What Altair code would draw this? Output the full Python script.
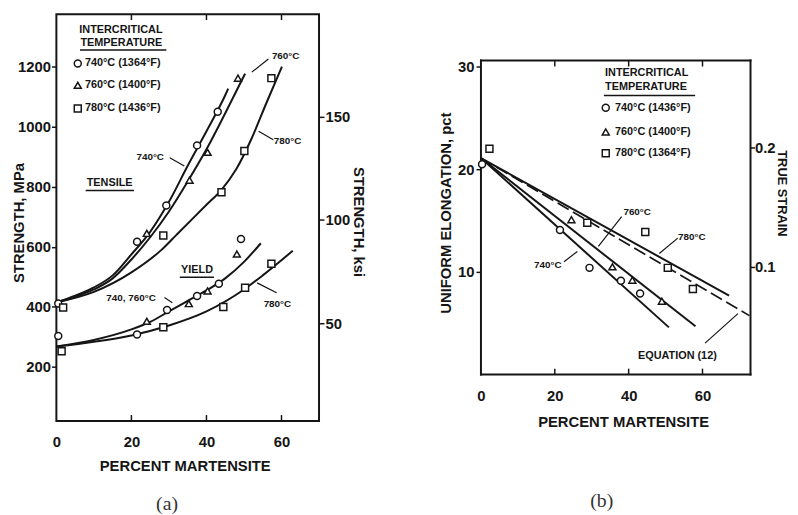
import math
import altair as alt
import pandas as pd

FONT = "Liberation Sans"
SERIF = "Liberation Serif"
INK = "#151515"

# ---------------- shared legend categories ----------------
temps_a = ["740°C (1364°F)", "760°C (1400°F)", "780°C (1436°F)"]
temps_b = ["740°C (1436°F)", "760°C (1400°F)", "780°C (1364°F)"]
shapes = ["circle", "triangle-up", "square"]
xtick_values = [0, 20, 40, 60]
inner_xticks = [20, 40, 60]

# ---------------- panel (a): strength vs martensite ----------------
mpa_ticks = [200, 400, 600, 800, 1000, 1200]
ksi_ticks = [50, 100, 150]
MPA_PER_KSI = 6.895

# tensile points
ten740_x = [0.5, 21.5, 29.3, 37.5, 43.0]
ten740_y = [411, 617, 738, 938, 1050]
ten760_x = [24.1, 35.5, 40.3, 48.4]
ten760_y = [645, 822, 915, 1162]
ten780_x = [1.8, 28.5, 44.0, 50.1, 57.3]
ten780_y = [398, 638, 782, 919, 1162]
# yield points
yld740_x = [0.5, 21.5, 29.5, 37.5, 43.3, 49.2]
yld740_y = [303, 308, 390, 436, 477, 626]
yld760_x = [24.1, 35.3, 40.3, 48.1]
yld760_y = [352, 411, 453, 576]
yld780_x = [1.4, 28.5, 44.5, 50.3, 57.3]
yld780_y = [252, 332, 400, 464, 544]

# fitted curves
c740t_x = [0, 5, 10, 15, 20, 25, 30, 35, 40, 45, 45.8]
c740t_y = [415, 437, 465, 505, 575, 650, 750, 870, 985, 1105, 1127]
c760t_x = [0, 5, 10, 15, 20, 25, 30, 35, 40, 45, 50.3]
c760t_y = [415, 433, 458, 495, 558, 632, 718, 818, 925, 1045, 1177]
c780t_x = [0, 10, 20, 28, 32, 36, 40, 44, 48, 52, 56, 60.1]
c780t_y = [415, 450, 515, 590, 640, 690, 740, 790, 860, 960, 1080, 1200]
c7476y_x = [0, 10, 20, 25, 30, 35, 40, 45, 50, 54.5]
c7476y_y = [268, 290, 325, 350, 385, 420, 455, 495, 550, 612]
c780y_x = [0, 10, 20, 30, 40, 50, 55, 63]
c780y_y = [268, 284, 305, 338, 385, 458, 505, 587]

# annotations (data coordinates)
a_lab_text = ["760°C", "780°C", "740°C", "740, 760°C", "780°C"]
a_lab_x = [61.1, 61.6, 25.0, 19.9, 58.9]
a_lab_y = [1237, 952, 898, 431, 408]
a_head_text = ["TENSILE", "YIELD"]
a_head_x = [14.2, 37.5]
a_head_y = [811, 523]
a_leg_title = ["INTERCRITICAL", "TEMPERATURE"]
a_leg_title_x = [6.1, 6.4]
a_leg_title_y = [1321, 1279]
a_leg_sym_x = [5.7, 5.7, 5.7]
a_leg_sym_y = [1211, 1138, 1061]
a_leg_lab_x = [7.6, 7.6, 7.6]
a_under_x = [6.3, 7.8, 32.9]
a_under_x2 = [29.3, 20.7, 42.0]
a_under_y = [1256, 788, 499]
a_lead_x = [52.1, 53.9, 30.2, 28.8, 53.5]
a_lead_y = [1182, 985, 897, 431, 480]
a_lead_x2 = [56.5, 57.8, 34.1, 30.9, 58.7]
a_lead_y2 = [1226, 957, 869, 414, 447]

# ---------------- panel (b): elongation vs martensite ----------------
elong_ticks = [10, 20, 30]
strain_ticks = [0.1, 0.2]

el740_x = [0.3, 21.4, 29.4, 37.9, 43.1]
el740_y = [20.5, 14.1, 10.4, 9.15, 7.9]
el760_x = [24.5, 35.6, 41.0, 49.0]
el760_y = [15.1, 10.5, 9.2, 7.15]
el780_x = [2.3, 28.8, 44.5, 50.6, 57.4]
el780_y = [22.0, 14.8, 13.9, 10.4, 8.35]

l740_x = [0, 50.9]
l740_y = [21.1, 4.6]
l760_x = [0, 58.1]
l760_y = [21.1, 4.7]
l780_x = [0, 67.2]
l780_y = [21.1, 7.7]
eq12_x = [0, 72.7]
eq12_y = [21.1, 5.75]

b_lab_text = ["760°C", "780°C", "740°C"]
b_lab_x = [42.3, 57.1, 18.1]
b_lab_y = [15.8, 13.4, 10.7]
b_eq_text = ["EQUATION (12)"]
b_eq_x = [53.2]
b_eq_y = [1.85]
b_leg_title = ["INTERCRITICAL", "TEMPERATURE"]
b_leg_title_x = [33.6, 33.6]
b_leg_title_y = [29.4, 28.0]
b_leg_sym_x = [33.8, 33.8, 33.8]
b_leg_sym_y = [26.0, 23.65, 21.56]
b_leg_lab_x = [36.3, 36.3, 36.3]
b_under_x = [33.3]
b_under_x2 = [58.0]
b_under_y = [27.2]
b_lead_x = [38.1, 53.3, 22.5, 60.7]
b_lead_y = [15.4, 13.3, 11.0, 3.06]
b_lead_x2 = [31.8, 48.3, 26.1, 69.6]
b_lead_y2 = [12.5, 11.8, 12.0, 5.94]

panel_labels = ["(a)", "(b)"]
pa_x, pa_y = [29.5], [-256]
pb_x, pb_y = [32.7], [-12.3]

# ---------------- geometry ----------------
W_A, H_A = 266, 412
W_B, H_B = 273, 318
B_DROP = 47  # panel (b) frame sits lower than panel (a)
H_B_EXT = H_B + B_DROP
XA_DOM = [0, 70]
YA_DOM = [20, 1375]
XB_DOM = [0, 73]
YB_TOP = 30.6
YB_DOM = [0, YB_TOP * H_B_EXT / H_B]  # extra room above the frame of panel (b)


def points_df(groups):
    rows = []
    for label, xs, ys in groups:
        rows += [{"x": a, "y": b, "temp": label} for a, b in zip(xs, ys)]
    return pd.DataFrame(rows)


def curves_df(groups):
    rows = []
    for name, xs, ys in groups:
        rows += [{"x": a, "y": b, "curve": name} for a, b in zip(xs, ys)]
    return pd.DataFrame(rows)


def text_df(xs, ys, labels):
    return pd.DataFrame({"x": xs, "y": ys, "label": labels})


pts_a = points_df([
    (temps_a[0], ten740_x, ten740_y), (temps_a[1], ten760_x, ten760_y), (temps_a[2], ten780_x, ten780_y),
    (temps_a[0], yld740_x, yld740_y), (temps_a[1], yld760_x, yld760_y), (temps_a[2], yld780_x, yld780_y),
])
crv_a = curves_df([
    ("t740", c740t_x, c740t_y), ("t760", c760t_x, c760t_y), ("t780", c780t_x, c780t_y),
    ("y7476", c7476y_x, c7476y_y), ("y780", c780y_x, c780y_y),
])
pts_b = points_df([
    (temps_b[0], el740_x, el740_y), (temps_b[1], el760_x, el760_y), (temps_b[2], el780_x, el780_y),
])
crv_b = curves_df([("l740", l740_x, l740_y), ("l760", l760_x, l760_y), ("l780", l780_x, l780_y)])
eq_b = curves_df([("eq12", eq12_x, eq12_y)])
leg_a = pd.DataFrame({"x": a_leg_sym_x, "y": a_leg_sym_y, "temp": temps_a})
leg_b = pd.DataFrame({"x": b_leg_sym_x, "y": b_leg_sym_y, "temp": temps_b})
frame_b = pd.DataFrame({
    "x": [XB_DOM[0], XB_DOM[0], XB_DOM[0], XB_DOM[1]],
    "x2": [XB_DOM[1], XB_DOM[1], XB_DOM[0], XB_DOM[1]],
    "y": [0, YB_TOP, 0, 0],
    "y2": [0, YB_TOP, YB_TOP, YB_TOP],
})

# ---------------- axes ----------------
ax_xa = alt.Axis(values=xtick_values, ticks=False, labelPadding=14, format="d", title="PERCENT MARTENSITE",
                 titleX=130, titleY=45, titleBaseline="middle", titleAlign="center")
ax_ya = alt.Axis(values=mpa_ticks, tickSize=5, labelPadding=1, format="d", title="STRENGTH, MPa",
                 titleAngle=270, titleX=-38, titleY=211, titleBaseline="middle", titleAlign="center")
ax_ksi = alt.Axis(orient="right", values=ksi_ticks, tickSize=5, labelPadding=1, format="d",
                  title="STRENGTH, ksi",
                  titleAngle=90, titleX=40, titleY=210, titleBaseline="middle", titleAlign="center")
ax_xb = alt.Axis(values=xtick_values, ticks=False, labelPadding=14, format="d", title="PERCENT MARTENSITE",
                 titleX=144, titleY=48, titleBaseline="middle", titleAlign="center")
ax_yb = alt.Axis(values=elong_ticks, tickSize=5, labelPadding=2, format="d", title="UNIFORM ELONGATION, pct",
                 titleAngle=270, titleX=-36, titleY=201, titleBaseline="middle", titleAlign="center")
strain_pos = [(math.exp(s) - 1) * 100 for s in strain_ticks]
ax_strain = alt.Axis(orient="right", values=strain_pos, tickSize=4, labelPadding=0,
                     labelExpr="format(log(1 + datum.value / 100), '.1f')", title="TRUE STRAIN",
                     titleAngle=90, titleX=31, titleY=181, titleBaseline="middle", titleAlign="center",
                     titleFontSize=13)

Xa = alt.X("x:Q", scale=alt.Scale(domain=XA_DOM, nice=False, zero=False), axis=ax_xa)
Ya = alt.Y("y:Q", scale=alt.Scale(domain=YA_DOM, nice=False, zero=False), axis=ax_ya)
Xb = alt.X("x:Q", scale=alt.Scale(domain=XB_DOM, nice=False, zero=False), axis=ax_xb)
Yb = alt.Y("y:Q", scale=alt.Scale(domain=YB_DOM, nice=False, zero=False), axis=ax_yb)


def inward_ticks(X, top_px, bottom_px, length=6):
    df = pd.DataFrame({"x": inner_xticks})
    top = alt.Chart(df).mark_rule(color=INK, strokeWidth=1.5).encode(
        X, y=alt.value(top_px), y2=alt.value(top_px + length))
    bot = alt.Chart(df).mark_rule(color=INK, strokeWidth=1.5).encode(
        X, y=alt.value(bottom_px), y2=alt.value(bottom_px - length))
    return [top, bot]


def text_layer(df, X, Y, size=10, align="center", font=FONT, weight="bold", color=INK):
    return alt.Chart(df).mark_text(font=font, fontSize=size, fontWeight=weight, color=color,
                                   align=align, baseline="middle").encode(X, Y, text="label:N")


def point_mark(df, X, Y, temps):
    return alt.Chart(df).mark_point(filled=False, fill="white", stroke=INK, strokeWidth=1.5,
                                    size=50, opacity=1).encode(
        X, Y, shape=alt.Shape("temp:N", scale=alt.Scale(domain=temps, range=shapes), legend=None))


# ---------------- panel (a) ----------------
lines_a = alt.Chart(crv_a).mark_line(color=INK, strokeWidth=2, interpolate="monotone").encode(
    Xa, Ya, detail="curve:N")
lead_a = alt.Chart(pd.DataFrame({"x": a_lead_x, "y": a_lead_y, "x2": a_lead_x2, "y2": a_lead_y2})).mark_rule(
    color=INK, strokeWidth=1.2).encode(Xa, Ya, x2="x2:Q", y2="y2:Q")
under_a = alt.Chart(pd.DataFrame({"x": a_under_x, "x2": a_under_x2, "y": a_under_y})).mark_rule(
    color=INK, strokeWidth=1.5).encode(Xa, Ya, x2="x2:Q")
inner_a = alt.layer(
    lines_a, lead_a, under_a,
    point_mark(pts_a, Xa, Ya, temps_a),
    point_mark(leg_a, Xa, Ya, temps_a),
    text_layer(text_df(a_leg_lab_x, a_leg_sym_y, temps_a), Xa, Ya, 11, align="left"),
    text_layer(text_df(a_lab_x, a_lab_y, a_lab_text), Xa, Ya, 10),
    text_layer(text_df(a_head_x, a_head_y, a_head_text), Xa, Ya, 11),
    text_layer(text_df(a_leg_title_x, a_leg_title_y, a_leg_title), Xa, Ya, 11, align="left"),
    text_layer(text_df(pa_x, pa_y, [panel_labels[0]]), Xa, Ya, 20, font=SERIF, weight="normal", color="#333333"),
    *inward_ticks(Xa, 0, H_A),
)
ksi_layer = alt.Chart(pts_a).transform_calculate(ksi=f"datum.y / {MPA_PER_KSI}").mark_point(opacity=0).encode(
    Xa, alt.Y("ksi:Q", scale=alt.Scale(domain=[YA_DOM[0] / MPA_PER_KSI, YA_DOM[1] / MPA_PER_KSI],
                                       nice=False, zero=False), axis=ax_ksi))
panel_a = alt.layer(inner_a, ksi_layer).resolve_scale(y="independent").properties(width=W_A, height=H_A)

# ---------------- panel (b) ----------------
frame_rules = alt.Chart(frame_b).mark_rule(color=INK, strokeWidth=2, strokeCap="square").encode(
    Xb, Yb, x2="x2:Q", y2="y2:Q")
lines_b = alt.Chart(crv_b).mark_line(color=INK, strokeWidth=2).encode(Xb, Yb, detail="curve:N")
eq_line = alt.Chart(eq_b).mark_line(color=INK, strokeWidth=1.6, strokeDash=[13, 5]).encode(Xb, Yb)
lead_b = alt.Chart(pd.DataFrame({"x": b_lead_x, "y": b_lead_y, "x2": b_lead_x2, "y2": b_lead_y2})).mark_rule(
    color=INK, strokeWidth=1.2).encode(Xb, Yb, x2="x2:Q", y2="y2:Q")
under_b = alt.Chart(pd.DataFrame({"x": b_under_x, "x2": b_under_x2, "y": b_under_y})).mark_rule(
    color=INK, strokeWidth=1.5).encode(Xb, Yb, x2="x2:Q")
inner_b = alt.layer(
    frame_rules, lines_b, eq_line, lead_b, under_b,
    point_mark(pts_b, Xb, Yb, temps_b),
    point_mark(leg_b, Xb, Yb, temps_b),
    text_layer(text_df(b_leg_lab_x, b_leg_sym_y, temps_b), Xb, Yb, 11, align="left"),
    text_layer(text_df(b_lab_x, b_lab_y, b_lab_text), Xb, Yb, 10),
    text_layer(text_df(b_eq_x, b_eq_y, b_eq_text), Xb, Yb, 11),
    text_layer(text_df(b_leg_title_x, b_leg_title_y, b_leg_title), Xb, Yb, 11, align="left"),
    text_layer(text_df(pb_x, pb_y, [panel_labels[1]]), Xb, Yb, 20, font=SERIF, weight="normal", color="#333333"),
    *inward_ticks(Xb, B_DROP, H_B_EXT),
)
strain_layer = alt.Chart(pts_b).transform_calculate(es="datum.y").mark_point(opacity=0).encode(
    Xb, alt.Y("es:Q", scale=alt.Scale(domain=YB_DOM, nice=False, zero=False), axis=ax_strain))
panel_b = alt.layer(inner_b, strain_layer).resolve_scale(y="independent").properties(
    width=W_B, height=H_B_EXT, view=alt.ViewBackground(stroke="transparent"))

chart = alt.concat(panel_a, panel_b, columns=2, spacing=72, align="none", bounds="full").resolve_scale(
    x="independent", y="independent", shape="independent").properties(
    padding={"left": 3, "top": 1, "right": 2, "bottom": 0}, background="white"
).configure_view(stroke=INK, strokeWidth=2).configure_axis(
    labelFont=FONT, labelFontWeight="bold", labelFontSize=15, labelColor=INK, labelFlush=False,
    titleFont=FONT, titleFontSize=15, titleFontWeight="bold", titleColor=INK,
    grid=False, domain=False, tickColor=INK, tickWidth=1.5
)

chart.save("out.html", embed_options={"renderer": "svg", "actions": False})
